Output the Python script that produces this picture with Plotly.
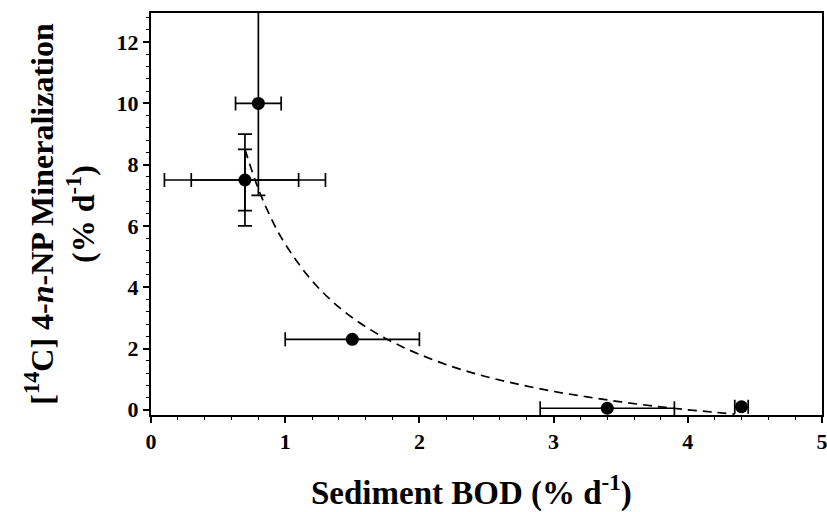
import plotly.graph_objects as go

# Data points
bod = [0.8, 0.7, 1.5, 3.4, 4.4]
mineral = [10.0, 7.5, 2.3, 0.05, 0.1]
bod_err = [0.17, 0.4, 0.5, 0.5, 0.05]
mineral_err = [3.0, 1.0, 0.0, 0.0, 0.0]

# Second (outer) error bars for the overlapping point near 0.7
bod2 = [0.7]
mineral2 = [7.5]
bod2_err = [0.6]
mineral2_err = [1.5]

# Fitted dashed curve
curve_x = [0.7, 0.8, 0.9, 1.0, 1.2, 1.4, 1.6, 1.8, 2.0, 2.25, 2.5, 2.75,
           3.0, 3.25, 3.5, 3.75, 4.0, 4.2, 4.35]
curve_y = [8.50, 7.21, 6.21, 5.41, 4.21, 3.35, 2.71, 2.21, 1.81, 1.40, 1.08,
           0.82, 0.60, 0.42, 0.26, 0.12, 0.0, -0.08, -0.14]

x_ticks = [0, 1, 2, 3, 4, 5]
y_ticks = [0, 2, 4, 6, 8, 10, 12]

x_title = "<b>Sediment BOD (% d<sup>-1</sup>)</b>"
y_title = "<b>[<sup>14</sup>C] 4-<i>n</i>-NP Mineralization</b><br><b>(% d<sup>-1</sup>)</b>"

FONT = "Liberation Serif"

fig = go.Figure()

fig.add_trace(go.Scatter(
    x=curve_x, y=curve_y, mode="lines", line_shape="spline",
    line=dict(color="black", width=1.7, dash="9px,6px"),
    showlegend=False, hoverinfo="skip"))

fig.add_trace(go.Scatter(
    x=bod2, y=mineral2, mode="markers",
    marker=dict(color="rgba(0,0,0,0)", size=1),
    error_x=dict(type="data", array=bod2_err, color="black", thickness=1.7, width=7),
    error_y=dict(type="data", array=mineral2_err, color="black", thickness=1.7, width=7),
    showlegend=False))

fig.add_trace(go.Scatter(
    x=bod, y=mineral, mode="markers",
    marker=dict(color="black", size=13),
    error_x=dict(type="data", array=bod_err, color="black", thickness=1.7, width=7),
    error_y=dict(type="data", array=mineral_err, color="black", thickness=1.7, width=7),
    showlegend=False))

fig.add_annotation(
    text=x_title, xref="paper", yref="paper", x=0.477, y=-0.188,
    xanchor="center", yanchor="middle", showarrow=False,
    font=dict(family=FONT, size=33, color="black"))

fig.update_layout(
    width=827, height=512,
    margin=dict(l=151, r=5, t=13, b=97),
    paper_bgcolor="white", plot_bgcolor="white",
    font=dict(family=FONT, color="black"),
    xaxis=dict(
        range=[0, 5], tickvals=x_ticks, ticktext=[f"<b>{v}</b>" for v in x_ticks],
        ticks="outside", ticklen=6, tickwidth=1.5, tickcolor="black",
        minor=dict(dtick=0.2, ticks="outside", ticklen=3, tickwidth=1, tickcolor="black"),
        showline=True, linecolor="black", linewidth=2, mirror=True,
        showgrid=False, zeroline=False, automargin=False,
        ticklabeloverflow="allow",
        tickfont=dict(family=FONT, size=22),
    ),
    yaxis=dict(
        range=[-0.17, 12.95], tickvals=y_ticks, ticktext=[f"<b>{v}</b>" for v in y_ticks],
        ticks="outside", ticklen=6, tickwidth=1.5, tickcolor="black",
        minor=dict(dtick=0.4, tick0=0, ticks="outside", ticklen=3, tickwidth=1, tickcolor="black"),
        showline=True, linecolor="black", linewidth=2, mirror=True,
        showgrid=False, zeroline=False, automargin=False,
        ticklabeloverflow="allow",
        tickfont=dict(family=FONT, size=22),
        title=dict(text=y_title, font=dict(family=FONT, size=32), standoff=12),
    ),
)

fig.write_html("out.html", config={"displayModeBar": False},
               post_script="document.body.style.margin='0px';")
